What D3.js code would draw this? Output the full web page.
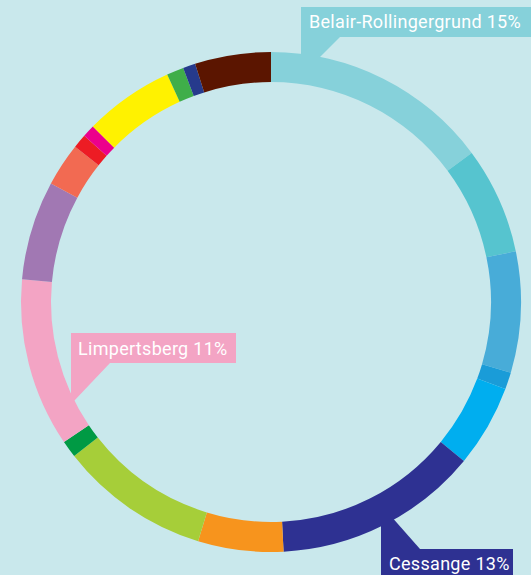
<!DOCTYPE html>
<html>
<head>
<meta charset="utf-8">
<script src="https://cdn.jsdelivr.net/npm/d3@7"></script>
<style>
  html, body { margin: 0; padding: 0; background: #c9e8ec; }
  svg { display: block; }
  .lbl { font-family: Roboto, "DejaVu Sans", sans-serif; font-size: 18px; letter-spacing: 0.3px; fill: #fff; }
</style>
</head>
<body>
<svg id="chart" width="531" height="575"></svg>
<script>
// quarters, clockwise from 12 o'clock
let quarters = ['Belair-Rollingergrund', 'Q2', 'Q3', 'Q4', 'Q5', 'Cessange', 'Q7', 'Q8', 'Q9',
    'Limpertsberg', 'Q11', 'Q12', 'Q13', 'Q14', 'Q15', 'Q16', 'Q17', 'Q18'];
let shares = [14.8, 6.9, 7.8, 1.1, 5.3, 13.2, 5.5, 9.7, 1.1, 10.9, 6.4, 2.8, 0.9, 0.8, 5.8, 1.1, 0.8, 4.9];
let colors = ['#86d1da', '#56c4cf', '#48acd8', '#1a9cd8', '#00aeef', '#2e3192', '#f7941d', '#a6ce39',
    '#009a44', '#f3a4c4', '#a178b3', '#f26a52', '#ed1c24', '#ec008c', '#fff200', '#3fae49', '#263a8c', '#5b1500'];
let callouts = ['Belair-Rollingergrund 15%', 'Cessange 13%', 'Limpertsberg 11%'];

function make_donut(){
    let CX = 271, CY = 302;
    let R_OUT = 250, R_IN = 220;

    let data = quarters.map((q, i) => ({name: q, value: shares[i], color: colors[i]}));

    let pie = d3.pie().sort(null).value(d => d.value);
    let arc = d3.arc().innerRadius(R_IN).outerRadius(R_OUT);

    let svg = d3.select('#chart');
    let g = svg.append('g').attr('transform', `translate(${CX},${CY})`);

    g.selectAll('path')
        .data(pie(data))
        .join('path')
        .attr('d', arc)
        .attr('fill', d => d.data.color);

    // callout boxes with a pointer into the ring
    let boxes = [
        {text: callouts[0], color: colors[0], x: 301, y: 7, w: 232, h: 30,
         ptr: [[301, 37], [340, 37], [315, 62], [301, 62]], tx: 309, ty: 28},
        {text: callouts[1], color: colors[5], x: 381, y: 549, w: 132, h: 30,
         ptr: [[381, 549], [420, 549], [390, 515], [381, 515]], tx: 389, ty: 570},
        {text: callouts[2], color: colors[9], x: 71, y: 333, w: 165, h: 30,
         ptr: [[71, 363], [110, 363], [73, 402], [71, 402]], tx: 78, ty: 355}
    ];

    let lg = svg.append('g');
    lg.selectAll('polygon')
        .data(boxes)
        .join('polygon')
        .attr('points', d => d.ptr.map(p => p.join(',')).join(' '))
        .attr('fill', d => d.color);
    lg.selectAll('rect')
        .data(boxes)
        .join('rect')
        .attr('x', d => d.x).attr('y', d => d.y)
        .attr('width', d => d.w).attr('height', d => d.h)
        .attr('fill', d => d.color);
    lg.selectAll('text')
        .data(boxes)
        .join('text')
        .attr('class', 'lbl')
        .attr('x', d => d.tx).attr('y', d => d.ty)
        .text(d => d.text);
}
make_donut();
</script>
</body>
</html>
